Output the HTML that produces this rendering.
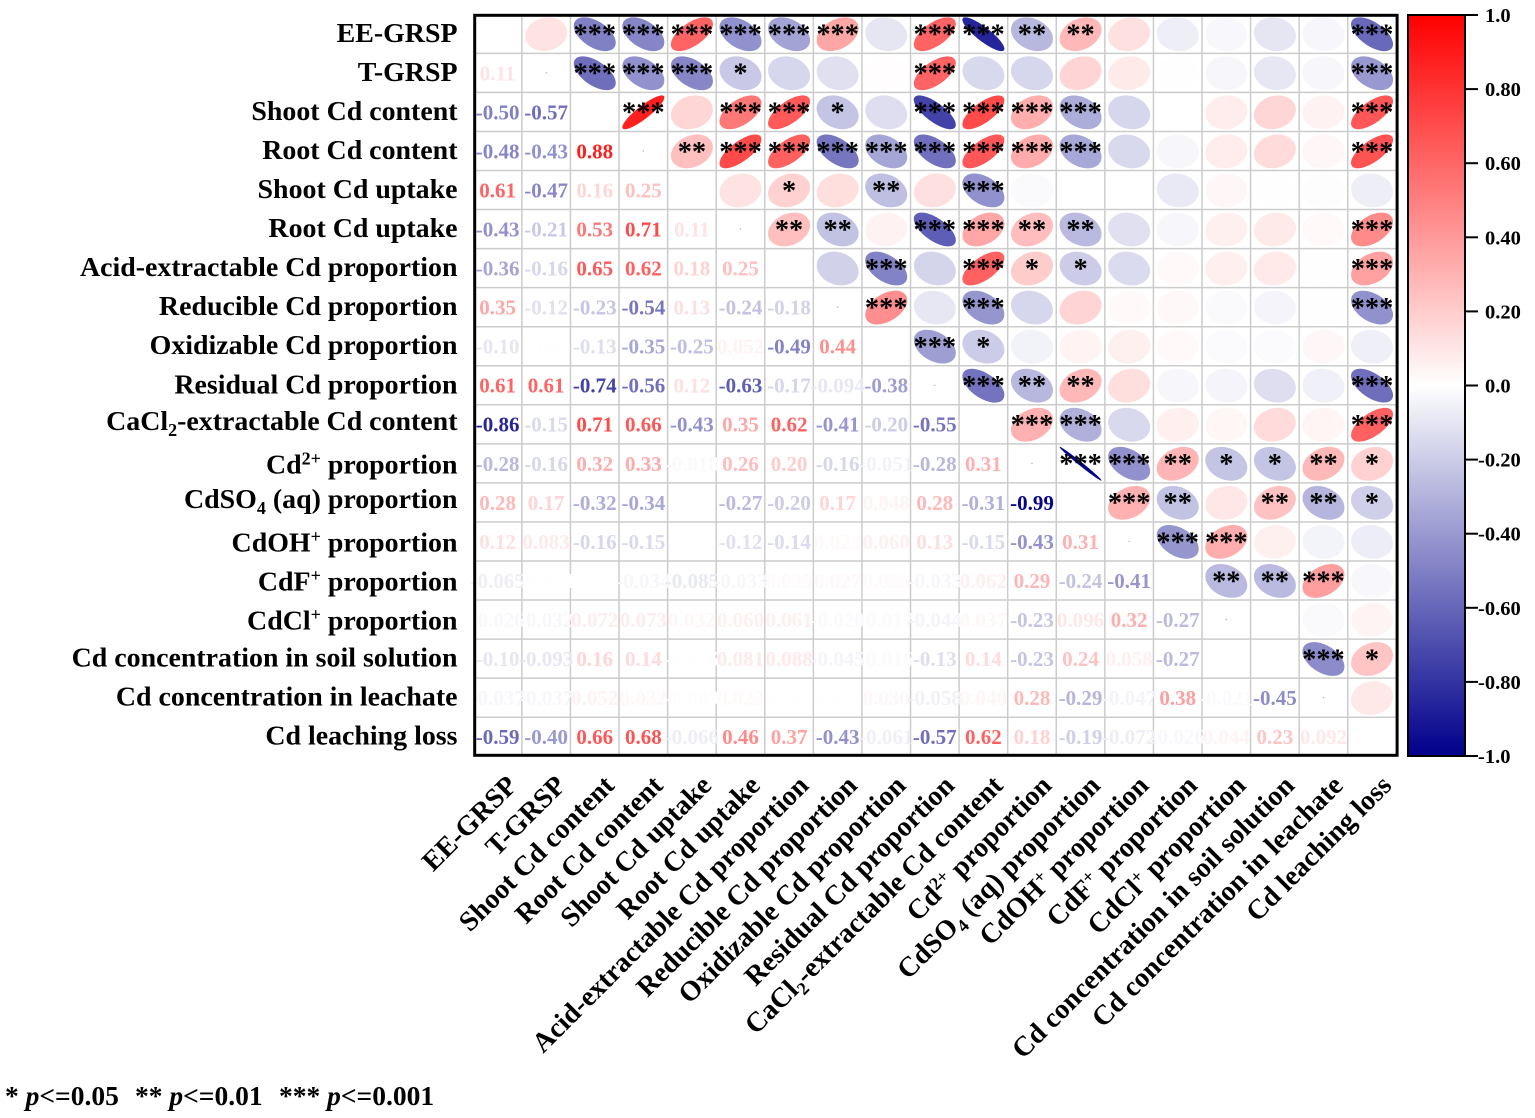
<!DOCTYPE html>
<html lang="en">
<head>
<meta charset="utf-8">
<title>Correlation matrix of Cd fractions</title>
<style>
html,body{margin:0;padding:0;background:#fff;width:1535px;height:1118px;overflow:hidden}
svg{display:block;font-family:"Liberation Serif",serif;font-weight:bold}
</style>
</head>
<body>
<svg id="chart" xmlns="http://www.w3.org/2000/svg" width="1535" height="1118" viewBox="0 0 1535 1118">
  <defs>
    <linearGradient id="bar-gradient" x1="0" y1="0" x2="0" y2="1">
      <stop offset="0" stop-color="#ff0000"/>
      <stop offset="0.5" stop-color="#ffffff"/>
      <stop offset="1" stop-color="#00008b"/>
    </linearGradient>
  </defs>
  <g id="cells"></g>
  <g id="grid"></g>
  <g id="marks"></g>
  <rect x="474.7" y="15.3" width="922.4" height="740" fill="none" stroke="#000" stroke-width="3"/>
  <g id="row-labels"></g>
  <g id="col-labels"></g>
  <rect x="1408" y="15" width="57" height="741" fill="url(#bar-gradient)" stroke="#000" stroke-width="2"/>
  <g id="colorbar-axis"></g>
  <text y="1105" font-size="27.5"><tspan x="5">* </tspan><tspan font-style="italic">p</tspan><tspan>&lt;=0.05</tspan><tspan x="135">** </tspan><tspan font-style="italic">p</tspan><tspan>&lt;=0.01</tspan><tspan x="279">*** </tspan><tspan font-style="italic">p</tspan><tspan>&lt;=0.001</tspan></text>
</svg>
<script>
const categories = [
  "EE-GRSP","T-GRSP","Shoot Cd content","Root Cd content","Shoot Cd uptake","Root Cd uptake",
  "Acid-extractable Cd proportion","Reducible Cd proportion","Oxidizable Cd proportion","Residual Cd proportion",
  "CaCl_2-extractable Cd content","Cd^2+ proportion","CdSO_4 (aq) proportion","CdOH^+ proportion","CdF^+ proportion",
  "CdCl^+ proportion","Cd concentration in soil solution","Cd concentration in leachate","Cd leaching loss"
];
const correlations = [
  [],
  [0.11],
  [-0.50,-0.57],
  [-0.48,-0.43,0.88],
  [0.61,-0.47,0.16,0.25],
  [-0.43,-0.21,0.53,0.71,0.11],
  [-0.36,-0.16,0.65,0.62,0.18,0.25],
  [0.35,-0.12,-0.23,-0.54,0.13,-0.24,-0.18],
  [-0.10,0.007,-0.13,-0.35,-0.25,0.052,-0.49,0.44],
  [0.61,0.61,-0.74,-0.56,0.12,-0.63,-0.17,-0.094,-0.38],
  [-0.86,-0.15,0.71,0.66,-0.43,0.35,0.62,-0.41,-0.20,-0.55],
  [-0.28,-0.16,0.32,0.33,-0.018,0.26,0.20,-0.16,-0.051,-0.28,0.31],
  [0.28,0.17,-0.32,-0.34,0.001,-0.27,-0.20,0.17,0.048,0.28,-0.31,-0.99],
  [0.12,0.083,-0.16,-0.15,0.001,-0.12,-0.14,0.023,0.060,0.13,-0.15,-0.43,0.31],
  [-0.065,-0.004,-0.001,-0.034,-0.085,-0.033,0.025,0.027,0.025,-0.033,0.062,0.29,-0.24,-0.41],
  [-0.026,-0.032,0.072,0.073,0.032,0.060,0.061,-0.020,-0.017,-0.044,0.037,-0.23,0.096,0.32,-0.27],
  [-0.10,-0.093,0.16,0.14,-0.005,0.081,0.088,-0.045,-0.016,-0.13,0.14,-0.23,0.24,0.058,-0.27,0.001],
  [-0.037,-0.037,0.052,0.032,-0.009,0.022,0.002,0.002,0.030,-0.058,0.040,0.28,-0.29,-0.047,0.38,-0.021,-0.45],
  [-0.59,-0.40,0.66,0.68,-0.066,0.46,0.37,-0.43,-0.061,-0.57,0.62,0.18,-0.19,-0.072,-0.026,0.044,0.23,0.092]
];
// number of significance stars for the cell at (row, column), same shape as correlations
const significance = [
  [],
  [0],
  [3,3],
  [3,3,3],
  [3,3,0,2],
  [3,1,3,3,0],
  [3,0,3,3,1,2],
  [3,0,1,3,0,2,0],
  [0,0,0,3,2,0,3,3],
  [3,3,3,3,0,3,0,0,3],
  [3,0,3,3,3,3,3,3,1,3],
  [2,0,3,3,0,2,1,0,0,2,3],
  [2,0,3,3,0,2,1,0,0,2,3,3],
  [0,0,0,0,0,0,0,0,0,0,0,3,3],
  [0,0,0,0,0,0,0,0,0,0,0,2,2,3],
  [0,0,0,0,0,0,0,0,0,0,0,1,0,3,2],
  [0,0,0,0,0,0,0,0,0,0,0,1,2,0,2,0],
  [0,0,0,0,0,0,0,0,0,0,0,2,2,0,3,0,3],
  [3,3,3,3,0,3,3,3,0,3,3,1,1,0,0,0,1,0]
];
const colorbarTicks = ["1.0","0.80","0.60","0.40","0.20","0.0","-0.20","-0.40","-0.60","-0.80","-1.0"];

const NS = "http://www.w3.org/2000/svg";
const plotLeft = 473.3, plotTop = 14.3, cellW = 48.58, cellH = 39.05;
const barTop = 15, barBottom = 756, barRight = 1465;
const xScale = c => plotLeft + cellW * (c + 0.5);
const yScale = r => plotTop + cellH * (r + 0.5);
const barScale = v => barTop + (1 - v) / 2 * (barBottom - barTop);

function colorFor(v) {
  const t = Math.min(1, Math.abs(v));
  if (v >= 0) {
    const k = Math.round(255 * (1 - t));
    return `rgb(255,${k},${k})`;
  }
  const k = Math.round(255 * (1 - t));
  const b = Math.round(255 - (255 - 139) * t);
  return `rgb(${k},${k},${b})`;
}
function formatValue(v) {
  return Math.abs(v) < 0.0995 ? v.toFixed(3) : v.toFixed(2);
}
function make(tag, attrs, parent) {
  const el = document.createElementNS(NS, tag);
  for (const k in attrs) el.setAttribute(k, attrs[k]);
  parent.appendChild(el);
  return el;
}
function ellipsePath(cx, cy, r) {
  const rx = 21, ry = 16.9;
  const d = Math.acos(Math.max(-0.9995, Math.min(0.9995, r)));
  let p = "";
  for (let i = 0; i < 72; i++) {
    const t = i / 72 * 2 * Math.PI;
    const x = cx + rx * Math.cos(t + d / 2);
    const y = cy - ry * Math.cos(t - d / 2);
    p += (i ? "L" : "M") + x.toFixed(2) + " " + y.toFixed(2);
  }
  return p + "Z";
}
function fillLabel(textEl, label) {
  const m = label.match(/^(.*?)([_^])(\d\+|\d|\+)(.*)$/);
  if (!m) { textEl.textContent = label; return; }
  const isSub = m[2] === "_";
  const shift = isSub ? 6 : -9;
  const a = make("tspan", {}, textEl);
  a.textContent = m[1];
  const s = make("tspan", {dy: shift, "font-size": 18}, textEl);
  s.textContent = m[3];
  const b = make("tspan", {dy: -shift}, textEl);
  b.textContent = m[4];
}
function labelShift(label) {
  if (label.indexOf("^") >= 0) return 2;
  if (label.indexOf("_") >= 0) return -2.5;
  return 0;
}

const cellsG = document.getElementById("cells");
const gridG = document.getElementById("grid");
const marksG = document.getElementById("marks");
const rowG = document.getElementById("row-labels");
const colG = document.getElementById("col-labels");
const barG = document.getElementById("colorbar-axis");
const n = categories.length;

const bg = make("rect", {x: plotLeft, y: plotTop, width: cellW * n, height: cellH * n, fill: "#fff"}, cellsG);



for (let i = 1; i < n; i++) {
  const vx = make("line", {x1: plotLeft + cellW * i, x2: plotLeft + cellW * i, y1: plotTop, y2: plotTop + cellH * n, stroke: "#cccccc", "stroke-width": 1.5}, gridG);
  
  
  const hz = make("line", {x1: plotLeft, x2: plotLeft + cellW * n, y1: plotTop + cellH * i, y2: plotTop + cellH * i, stroke: "#cccccc", "stroke-width": 1.5}, gridG);
  
  
}

correlations.forEach((row, r) => {
  row.forEach((v, c) => {
    const label = make("text", {x: xScale(c), y: yScale(r) + 7.4, "text-anchor": "middle", "font-size": 21, fill: colorFor(v)}, marksG);
    
    
    if (Math.abs(v) >= 0.002) label.textContent = formatValue(v);

    const cell = make("path", {d: ellipsePath(xScale(r), yScale(c) + 0.4, v), fill: colorFor(v)}, marksG);
    
    

    const count = significance[r][c];
    if (count > 0) {
      const star = make("text", {x: xScale(r), y: yScale(c) + 9.8, "text-anchor": "middle", "font-size": 28.4, fill: "#000"}, marksG);
      
      
      star.textContent = "*".repeat(count);
    }
  });
  if (r % 2 === 1) {
    const dot = make("circle", {cx: xScale(r), cy: yScale(r), r: 0.7, fill: "#aaa"}, marksG);
    
    
  }
});

categories.forEach((name, i) => {
  const yl = make("text", {x: 457.5, y: yScale(i) + 8 + labelShift(name), "text-anchor": "end", "font-size": 27.9, fill: "#000"}, rowG);
  
  
  fillLabel(yl, name);

  const px = xScale(i) + 21, py = 787;
  const xl = make("text", {x: px, y: py, "text-anchor": "end", "font-size": 27.9, fill: "#000", transform: `rotate(-45 ${px} ${py})`}, colG);
  
  
  fillLabel(xl, name);
});

colorbarTicks.forEach(t => {
  const v = parseFloat(t);
  const y = barScale(v);
  const tick = make("line", {x1: barRight, x2: barRight + 13, y1: y, y2: y, stroke: "#000", "stroke-width": 2}, barG);
  
  
  const lab = make("text", {x: v < 0 ? 1478 : 1485, y: y + 7, "font-size": 20.5, fill: "#000"}, barG);
  
  
  lab.textContent = t;
});
</script>
</body>
</html>
